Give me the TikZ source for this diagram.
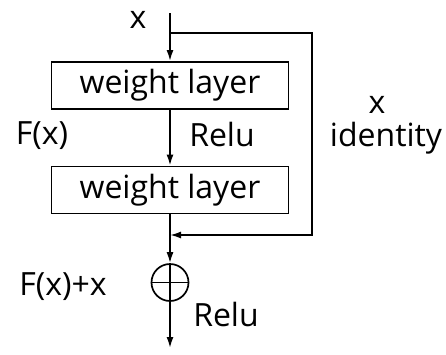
\documentclass[tikz,border=0pt]{standalone}
\usepackage{fontspec}
\setmainfont{Open Sans}
\usetikzlibrary{arrows.meta,positioning}
\begin{document}
\begin{tikzpicture}[x=1pt, y=1pt, node distance=104.5pt, >={Latex[length=11pt,width=7pt]},
	line width=1.7pt,
	every node/.style={font=\fontsize{32}{36}\selectfont, inner sep=0pt},
	layer/.style={rectangle, draw, line width=1.9pt, minimum width=237pt, minimum height=47pt, fill=white},
	addop/.style={circle, draw, line width=1.7pt, minimum size=37pt}]
	\useasboundingbox (0,0) rectangle (446,-354);
	\node[layer] (w1) at (170,-85.5) {weight layer};
	\node[layer] (w2) [below of=w1] {weight layer};
	\node[addop] (add) [below of=w2, node distance=92.5pt] {};
	\draw (add.north) -- (add.south);
	\draw (add.west) -- (add.east);
	\coordinate (in) at (170,-13);
	\coordinate (split) at (170,-33);
	\coordinate (join) at (170,-235);
	\coordinate (out) at (170,-348);
	% Labels
	\node[anchor=base] (xin) at (138,-28) {x};
	\node[anchor=base] (fx) at (42,-144) {F(x)};
	\node[anchor=base] (relu1) at (222,-146) {Relu};
	\node[anchor=base] (xid) at (377,-113) {x};
	\node[anchor=base] (ident) at (386,-146) {identity};
	\node[anchor=base] (fxx) at (63,-295) {F(x)+x};
	\node[anchor=base] (relu2) at (226,-326) {Relu};
	% Arrows
	\draw[->] (in) -- (w1);
	\draw[->] (w1) -- (w2);
	\draw[->] (w2) -- (add);
	\draw[->] (add) -- (out);
	\draw[->] (split) -- ++(142,0) |- (join);
\end{tikzpicture}
\end{document}
